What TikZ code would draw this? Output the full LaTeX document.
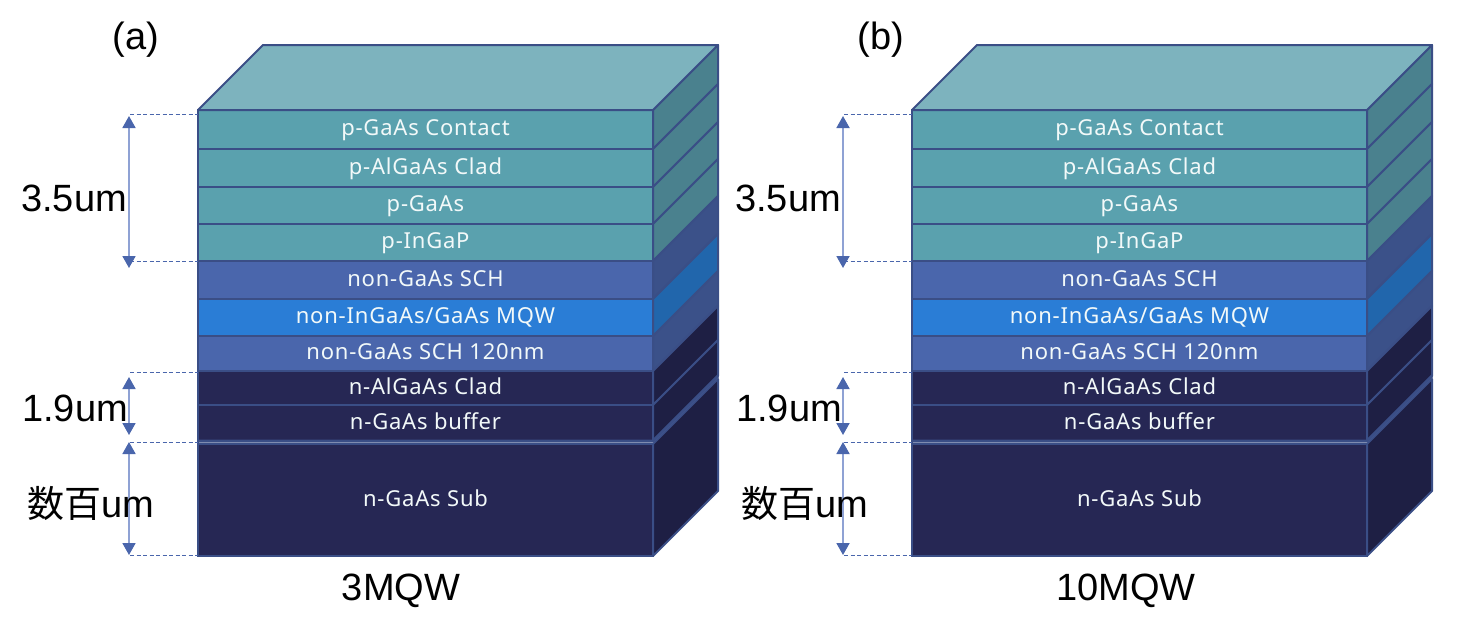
\documentclass[tikz,border=0pt]{standalone}
\usepackage{fontspec}
\setmainfont{Liberation Sans}
\newfontfamily\layerfont[LetterSpace=3.6]{Noto Sans}
\newfontfamily\cjkfont{Noto Sans CJK JP}
\usetikzlibrary{arrows.meta,calc}
\definecolor{edgec}{HTML}{3A4E86}
\definecolor{tealf}{HTML}{5AA1AE}
\definecolor{teals}{HTML}{4A818E}
\definecolor{tealt}{HTML}{7DB3BE}
\definecolor{schf}{HTML}{4A66AC}
\definecolor{schs}{HTML}{3B5189}
\definecolor{mqwf}{HTML}{2A7DD6}
\definecolor{mqws}{HTML}{2166AC}
\definecolor{navyf}{HTML}{262754}
\definecolor{navys}{HTML}{1E1F44}
\definecolor{dimline}{HTML}{8FA2D4}
\definecolor{dimhead}{HTML}{4A66AC}
\tikzset{
  x=1pt,y=-1pt,
  layerbox/.style={draw=edgec,line width=2.2pt,minimum width=455pt,inner sep=0pt,outer sep=0pt,
    text=white!95!teal,text height=16pt,text depth=4pt,
    font=\layerfont\fontsize{22}{26}\selectfont},
  sideface/.style={draw=edgec,line width=2pt,line join=round},
  dimarrow/.style={draw=dimline,line width=1.8pt,
    {Triangle[length=12pt,width=13pt,color=dimhead]}-{Triangle[length=12pt,width=13pt,color=dimhead]}},
  dimguide/.style={draw=schf,line width=1pt,dash pattern=on 4pt off 2.5pt},
  biglabel/.style={font=\fontsize{38}{44}\selectfont,text=black,inner sep=0pt},
}
% #1 name, #2 top y, #3 bottom y, #4 front colour, #5 side colour, #6 text
\newcommand{\stacklayer}[6]{%
  \node[layerbox,fill=#4,anchor=north west,minimum height={#3-#2}] (#1) at (198,#2) {#6};
  \filldraw[sideface,fill=#5] (#1.north east) -- ++(65,-65) -- ($(#1.south east)+(65,-65)$) -- (#1.south east) -- cycle;
}
% #1 prefix, #2 panel letter, #3 caption, #4 panel x, #5 caption x
\newcommand{\mqwstack}[5]{%
  \stacklayer{#1contact}{110}{149}{tealf}{teals}{p-GaAs Contact}
  \stacklayer{#1clad}{149}{187}{tealf}{teals}{p-AlGaAs Clad}
  \stacklayer{#1pgaas}{187}{224}{tealf}{teals}{p-GaAs}
  \stacklayer{#1ingap}{224}{261}{tealf}{teals}{p-InGaP}
  \stacklayer{#1schu}{261}{299}{schf}{schs}{non-GaAs SCH}
  \stacklayer{#1mqw}{299}{336}{mqwf}{mqws}{non-InGaAs/GaAs MQW}
  \stacklayer{#1schl}{336}{371}{schf}{schs}{non-GaAs SCH 120nm}
  \stacklayer{#1nclad}{371}{405}{navyf}{navys}{n-AlGaAs Clad}
  \stacklayer{#1buffer}{405}{441}{navyf}{navys}{n-GaAs buffer}
  \stacklayer{#1sub}{444}{556}{navyf}{navys}{n-GaAs Sub}
  \filldraw[sideface,fill=tealt] (#1contact.north west) -- ++(65,-65) -- ($(#1contact.north east)+(65,-65)$) -- (#1contact.north east) -- cycle;
  \draw[sideface] (#1buffer.south west) -- (#1sub.north west);
  \draw[sideface,line width=3pt] (#1buffer.south west) -- (#1buffer.south east) -- ++(65,-65);
  % dimension guides
  \coordinate (#1g1) at (130,114.5);
  \coordinate (#1g2) at (130,261);
  \coordinate (#1g3) at (130,372);
  \coordinate (#1g4) at (130,442);
  \coordinate (#1g5) at (130,555);
  \draw[dimguide] (#1g1) -- (#1contact.west |- #1g1);
  \draw[dimguide] (#1g2) -- (#1ingap.south west);
  \draw[dimguide] (#1g3) -- (#1nclad.west |- #1g3);
  \draw[dimguide] (#1g4) -- (#1sub.west |- #1g4);
  \draw[dimguide] (#1g5) -- (#1sub.west |- #1g5);
  \coordinate (#1a1) at (129,116);
  \coordinate (#1a2) at (129,268);
  \coordinate (#1a3) at (129,377);
  \coordinate (#1a4) at (129,435);
  \coordinate (#1a5) at (129,442);
  \coordinate (#1a6) at (129,555);
  \draw[dimarrow] (#1a1) -- (#1a2);
  \draw[dimarrow] (#1a3) -- (#1a4);
  \draw[dimarrow] (#1a5) -- (#1a6);
  \node[biglabel] (#1t1) at (74,198) {3.5um};
  \node[biglabel] (#1t2) at (75,408) {1.9um};
  \node[biglabel] (#1t3) at (91,503) {{\cjkfont\fontsize{37}{44}\selectfont 数百}um};
  \node[biglabel] (#1panel) at (#4,40) {(#2)};
  \node[biglabel] (#1cap) at (#5,591) {#3};
}
\begin{document}
\begin{tikzpicture}
\useasboundingbox (0,0) rectangle (1475,633);
\begin{scope}
  \mqwstack{a}{a}{3MQW}{136}{401}
\end{scope}
\begin{scope}[xshift=714pt]
  \mqwstack{b}{b}{10MQW}{167}{412}
\end{scope}
\end{tikzpicture}
\end{document}
